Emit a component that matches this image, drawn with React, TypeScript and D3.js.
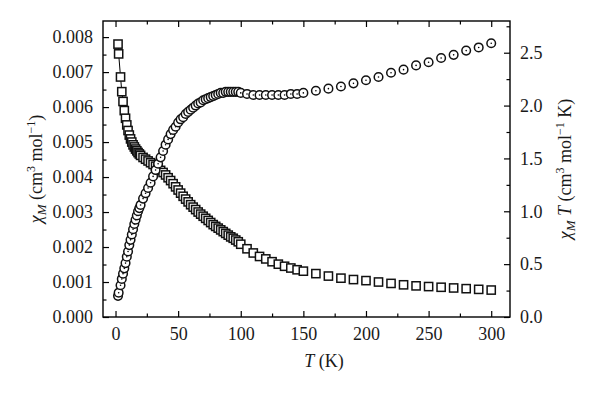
import React, { useEffect, useRef } from "react";
import * as d3 from "d3";

const T_VALUES = [
  2, 2.5, 4, 5, 6, 7, 8, 9, 10, 11, 12, 13, 14, 15, 16, 17, 18, 19, 20,
  22, 24, 26, 28, 30, 32, 34, 36, 38, 40, 42, 44, 46, 48, 50, 52, 54, 56, 58, 60,
  62, 64, 66, 68, 70, 72, 74, 76, 78, 80, 82, 84, 86, 88, 90, 92, 94, 96, 98, 100,
  105, 110, 115, 120, 125, 130, 135, 140, 145, 150,
  160, 170, 180, 190, 200, 210, 220, 230, 240, 250, 260, 270, 280, 290, 300,
];

// chi_M (cm3 mol-1), left axis
const CHI_M = [
  0.0078, 0.00752, 0.00686, 0.00644, 0.00616, 0.0059, 0.00568, 0.00549, 0.00533, 0.0052,
  0.00509, 0.005, 0.00492, 0.00486, 0.0048, 0.00475, 0.0047, 0.00466, 0.00462,
  0.00456, 0.00451, 0.00446, 0.00441, 0.00436, 0.00431, 0.00425, 0.00419, 0.00413, 0.00406,
  0.00398, 0.0039, 0.00381, 0.00372, 0.00363, 0.00354, 0.00345, 0.00337, 0.00329, 0.00321,
  0.00314, 0.00307, 0.003, 0.00294, 0.00288, 0.00282, 0.00276, 0.0027, 0.00264, 0.00259,
  0.00254, 0.00249, 0.00244, 0.00239, 0.00234, 0.00229, 0.00225, 0.0022, 0.00215, 0.00208,
  0.00195, 0.00183, 0.00173, 0.00166, 0.00158, 0.00151, 0.00145, 0.0014, 0.00135, 0.00131,
  0.00124, 0.00117, 0.00111, 0.00107, 0.00104, 0.001, 0.00096, 0.00092, 0.00089, 0.00087,
  0.00085, 0.00083, 0.00081, 0.00079, 0.00077,
];

// chi_M T (cm3 mol-1 K), right axis
const CHI_MT = [
  0.2, 0.23, 0.3, 0.36, 0.41, 0.46, 0.51, 0.57, 0.62, 0.68,
  0.73, 0.78, 0.83, 0.88, 0.92, 0.96, 1.0, 1.03, 1.06,
  1.12, 1.17, 1.22, 1.27, 1.33, 1.39, 1.45, 1.51, 1.57, 1.63,
  1.68, 1.73, 1.77, 1.8, 1.84, 1.87, 1.89, 1.92, 1.94, 1.96,
  1.98, 2.0, 2.02, 2.03, 2.05, 2.06, 2.07, 2.08, 2.09, 2.1,
  2.11, 2.12, 2.12, 2.13, 2.13, 2.13, 2.13, 2.13, 2.13, 2.12,
  2.11, 2.1, 2.1, 2.1, 2.1, 2.1, 2.1, 2.11, 2.11, 2.12,
  2.14, 2.16, 2.18, 2.21, 2.24, 2.27, 2.31, 2.34, 2.38, 2.41,
  2.45, 2.48, 2.52, 2.55, 2.59,
];

const X_MAJOR = [0, 50, 100, 150, 200, 250, 300];
const X_MINOR = [25, 75, 125, 175, 225, 275];
const YL_MAJOR = [0, 0.001, 0.002, 0.003, 0.004, 0.005, 0.006, 0.007, 0.008];
const YL_MINOR = [0.0005, 0.0015, 0.0025, 0.0035, 0.0045, 0.0055, 0.0065, 0.0075];
const YR_MAJOR = [0, 0.5, 1.0, 1.5, 2.0, 2.5];
const YR_MINOR = [0.25, 0.75, 1.25, 1.75, 2.25, 2.75];

const FONT = "'Liberation Serif', 'Times New Roman', serif";

export default function App() {
  const svgRef = useRef<SVGSVGElement>(null);

  useEffect(() => {
    if (!svgRef.current) return;
    const svg = d3.select(svgRef.current);
    svg.selectAll("*").remove();

    const left = 103;
    const right = 510;
    const top = 21;
    const bottom = 317;

    const x = d3.scaleLinear().domain([-10, 315]).range([left, right]);
    const yL = d3.scaleLinear().domain([0, 0.00846]).range([bottom, top]);
    const yR = d3.scaleLinear().domain([0, 2.8]).range([bottom, top]);

    const styleAxis = (g: d3.Selection<SVGGElement, unknown, null, undefined>) => {
      g.select(".domain").remove();
      g.selectAll("line").attr("stroke", "#000").attr("stroke-width", 1.2);
      g.selectAll("text")
        .attr("font-family", FONT)
        .attr("font-size", 18)
        .attr("fill", "#1a1a1a");
    };

    // bottom + top
    svg.append("g").attr("transform", `translate(0,${bottom})`)
      .call(d3.axisBottom(x).tickValues(X_MAJOR).tickSize(-6).tickPadding(10).tickFormat((d) => String(d)))
      .call(styleAxis);
    svg.append("g").attr("transform", `translate(0,${bottom})`)
      .call(d3.axisBottom(x).tickValues(X_MINOR).tickSize(-3.5).tickFormat(() => ""))
      .call(styleAxis);
    svg.append("g").attr("transform", `translate(0,${top})`)
      .call(d3.axisTop(x).tickValues(X_MAJOR).tickSize(-6).tickFormat(() => ""))
      .call(styleAxis);
    svg.append("g").attr("transform", `translate(0,${top})`)
      .call(d3.axisTop(x).tickValues(X_MINOR).tickSize(-3.5).tickFormat(() => ""))
      .call(styleAxis);

    // left
    svg.append("g").attr("transform", `translate(${left},0)`)
      .call(d3.axisLeft(yL).tickValues(YL_MAJOR).tickSize(-6).tickPadding(10).tickFormat((d) => (+d).toFixed(3)))
      .call(styleAxis);
    svg.append("g").attr("transform", `translate(${left},0)`)
      .call(d3.axisLeft(yL).tickValues(YL_MINOR).tickSize(-3.5).tickFormat(() => ""))
      .call(styleAxis);

    // right
    svg.append("g").attr("transform", `translate(${right},0)`)
      .call(d3.axisRight(yR).tickValues(YR_MAJOR).tickSize(-6).tickPadding(10).tickFormat((d) => (+d).toFixed(1)))
      .call(styleAxis);
    svg.append("g").attr("transform", `translate(${right},0)`)
      .call(d3.axisRight(yR).tickValues(YR_MINOR).tickSize(-3.5).tickFormat(() => ""))
      .call(styleAxis);

    // frame
    svg.append("rect")
      .attr("x", left).attr("y", top)
      .attr("width", right - left).attr("height", bottom - top)
      .attr("fill", "none").attr("stroke", "#000").attr("stroke-width", 1.4);

    const squares = T_VALUES.map((t, i) => ({ t, v: CHI_M[i] }));
    const circles = T_VALUES.map((t, i) => ({ t, v: CHI_MT[i] }));

    // thin connecting line across the first low-T points
    const line = d3.line<{ t: number; v: number }>().x((d) => x(d.t)).y((d) => yL(d.v));
    svg.append("path")
      .datum(squares.slice(0, 5))
      .attr("d", line)
      .attr("fill", "none")
      .attr("stroke", "#000")
      .attr("stroke-width", 1);

    const s = 8.2;
    svg.append("g")
      .selectAll("rect")
      .data(squares)
      .join("rect")
      .attr("x", (d) => x(d.t) - s / 2)
      .attr("y", (d) => yL(d.v) - s / 2)
      .attr("width", s)
      .attr("height", s)
      .attr("fill", "#fff")
      .attr("stroke", "#111")
      .attr("stroke-width", 1.5);

    const cg = svg.append("g");
    circles.forEach((d) => {
      cg.append("circle")
        .attr("cx", x(d.t)).attr("cy", yR(d.v)).attr("r", 4.3)
        .attr("fill", "#fff").attr("stroke", "#111").attr("stroke-width", 1.5);
      cg.append("circle")
        .attr("cx", x(d.t)).attr("cy", yR(d.v)).attr("r", 0.8)
        .attr("fill", "#000");
    });

    // x title
    const xt = svg.append("text")
      .attr("x", 324).attr("y", 367)
      .attr("text-anchor", "middle")
      .attr("font-family", FONT).attr("font-size", 18).attr("fill", "#1a1a1a");
    xt.append("tspan").attr("font-style", "italic").text("T");
    xt.append("tspan").text(" (K)");

    // y titles
    const yTitle = (xPos: number, withT: boolean, unitTail: string) => {
      const t = svg.append("text")
        .attr("transform", `translate(${xPos},${(top + bottom) / 2}) rotate(-90)`)
        .attr("text-anchor", "middle")
        .attr("font-family", FONT).attr("font-size", 18).attr("fill", "#1a1a1a");
      t.append("tspan").attr("font-style", "italic").text("χ");
      t.append("tspan").attr("font-style", "italic").attr("font-size", 13).attr("dy", 4).text("M");
      if (withT) {
        t.append("tspan").attr("font-style", "italic").attr("dy", -4).text(" T");
        t.append("tspan").text(" (cm");
      } else {
        t.append("tspan").attr("dy", -4).text(" (cm");
      }
      t.append("tspan").attr("font-size", 12).attr("dy", -7).text("3");
      t.append("tspan").attr("dy", 7).text(" mol");
      t.append("tspan").attr("font-size", 12).attr("dy", -7).text("−1");
      t.append("tspan").attr("dy", 7).text(unitTail);
    };
    yTitle(42, false, ")");
    yTitle(571, true, " K)");
  }, []);

  return (
    <svg
      ref={svgRef}
      width={600}
      height={395}
      style={{ position: "absolute", left: 0, top: 0, background: "#fff" }}
    />
  );
}
